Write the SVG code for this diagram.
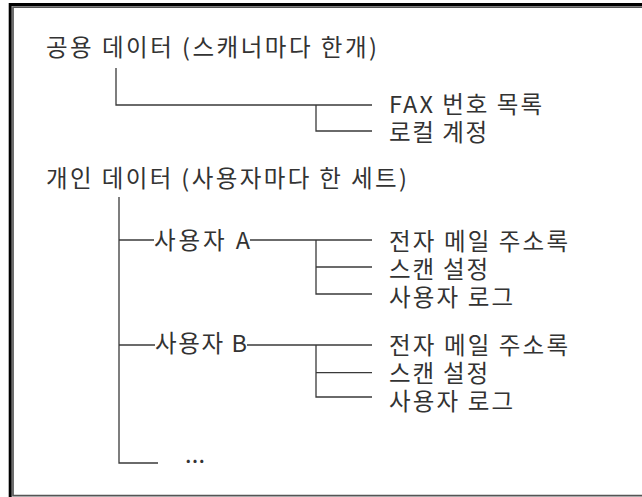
<svg xmlns="http://www.w3.org/2000/svg" width="642" height="497" viewBox="0 0 642 497">
<style>
text{font-family:"Noto Sans CJK KR","Noto Sans",sans-serif;font-size:23.5px;fill:#333;}
.c{fill:none;stroke:#3a3a3a;stroke-width:1.3;}
</style>
<rect width="642" height="497" fill="#fff"/>
<g id="frame">
<path d="M10.2 497 V4.5 H642" fill="none" stroke="#000" stroke-width="3"/>
<path d="M642 7.2 H13 V495.6 H642" fill="none" stroke="#555" stroke-width="1.7"/>
</g>
<g id="connectors">
<path class="c" d="M116 68 V105 H372"/>
<path class="c" d="M316 105 V131 H372"/>
<path class="c" d="M119 197 V463 H158"/>
<path class="c" d="M119 240 H154"/>
<path class="c" d="M250 240 H372"/>
<path class="c" d="M316 240 V294 H372"/>
<path class="c" d="M316 267 H372"/>
<path class="c" d="M119 345 H155"/>
<path class="c" d="M247 345 H372"/>
<path class="c" d="M316 345 V397 H372"/>
<path class="c" d="M316 372.7 H372"/>
</g>
<g id="n-public"><text x="46" y="56" textLength="331" lengthAdjust="spacing">공용 데이터 (스캐너마다 한개)</text></g>
<g id="n-fax"><text x="389" y="113" textLength="153" lengthAdjust="spacing">FAX 번호 목록</text></g>
<g id="n-local"><text x="389" y="141" textLength="98" lengthAdjust="spacing">로컬 계정</text></g>
<g id="n-private"><text x="46" y="187" textLength="361" lengthAdjust="spacing">개인 데이터 (사용자마다 한 세트)</text></g>
<g id="n-userA"><text x="154" y="249" textLength="96" lengthAdjust="spacing">사용자 A</text></g>
<g id="n-a-email"><text x="389" y="250" textLength="179" lengthAdjust="spacing">전자 메일 주소록</text></g>
<g id="n-a-scan"><text x="389" y="278" textLength="99" lengthAdjust="spacing">스캔 설정</text></g>
<g id="n-a-log"><text x="389" y="306" textLength="124" lengthAdjust="spacing">사용자 로그</text></g>
<g id="n-userB"><text x="155" y="352" textLength="92" lengthAdjust="spacing">사용자 B</text></g>
<g id="n-b-email"><text x="389" y="354" textLength="179" lengthAdjust="spacing">전자 메일 주소록</text></g>
<g id="n-b-scan"><text x="389" y="382" textLength="99" lengthAdjust="spacing">스캔 설정</text></g>
<g id="n-b-log"><text x="389" y="410" textLength="124" lengthAdjust="spacing">사용자 로그</text></g>
<g id="n-more"><text x="185" y="463" textLength="20" lengthAdjust="spacing">...</text></g>
</svg>
